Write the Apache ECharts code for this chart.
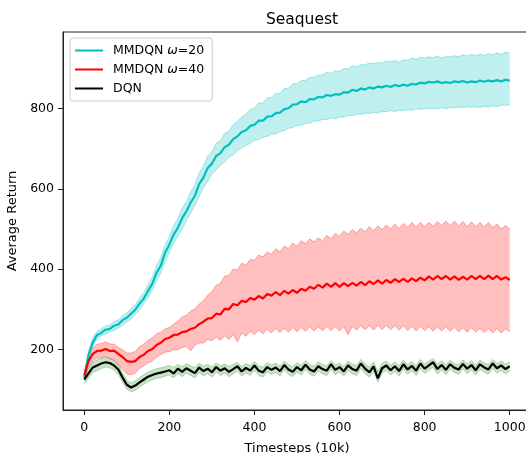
<!DOCTYPE html>
<html>
<head>
<meta charset="utf-8">
<script src="https://cdn.jsdelivr.net/npm/echarts@6/dist/echarts.min.js"></script>
<style>html,body{margin:0;padding:0;background:#fff}#c{width:526px;height:453px}</style>
</head>
<body>
<div id="c"></div>
<script>
const steps = [
  0,10,20,30,40,50,60,70,80,90,
  100,110,120,130,140,150,160,170,180,190,
  200,210,220,230,240,250,260,270,280,290,
  300,310,320,330,340,350,360,370,380,390,
  400,410,420,430,440,450,460,470,480,490,
  500,510,520,530,540,550,560,570,580,590,
  600,610,620,630,640,650,660,670,680,690,
  700,710,720,730,740,750,760,770,780,790,
  800,810,820,830,840,850,860,870,880,890,
  900,910,920,930,940,950,960,970,980,990,
  1000];
const xTicks = [0,200,400,600,800,1000];
const yTicks = [200,400,600,800];

const mm20 = [
  130,186,217,236,241,249,251,259,262,273,
  279,289,299,314,327,346,364,391,409,441,
  461,486,503,527,544,566,583,612,628,652,
  663,682,689,704,710,724,731,742,746,757,
  760,770,770,780,781,789,790,799,801,810,
  811,818,816,824,823,829,828,834,832,836,
  835,841,840,847,844,850,848,853,850,855,
  853,857,854,859,856,860,857,862,860,865,
  863,867,865,868,864,866,864,868,866,869,
  865,868,866,870,867,870,868,871,868,872,
  870];
const mm20Hi = [
  138,196,229,245,251,258,261,269,273,284,
  291,301,312,328,342,361,381,409,429,461,
  481,508,526,551,568,592,610,640,656,682,
  692,714,720,738,744,760,768,780,786,798,
  801,814,814,827,828,838,838,850,851,862,
  862,870,870,878,878,884,884,890,888,894,
  893,900,899,907,904,910,909,914,912,915,
  914,919,917,920,916,922,920,926,923,928,
  926,929,927,931,926,930,929,932,930,934,
  931,935,932,936,933,937,934,939,935,941,
  938];
const mm20Lo = [
  122,175,209,225,234,238,244,247,253,260,
  269,275,288,298,314,329,349,371,391,419,
  443,463,483,500,521,539,559,581,603,619,
  637,647,659,667,679,685,695,701,709,713,
  721,723,729,731,736,737,743,745,751,753,
  758,759,763,764,769,769,773,773,777,774,
  779,779,783,783,786,786,789,788,791,789,
  793,792,795,793,796,795,797,796,799,798,
  801,800,801,799,802,800,803,802,804,802,
  805,804,805,803,806,804,807,805,809,808,
  810];

const mm40 = [
  135,171,189,196,197,201,196,197,189,181,
  171,169,171,181,187,196,201,211,217,226,
  229,236,237,243,245,251,254,263,269,277,
  278,289,287,301,300,313,310,321,318,328,
  324,333,327,338,334,343,335,346,339,348,
  341,351,346,356,351,361,354,364,356,365,
  356,365,358,366,359,368,360,370,363,372,
  364,373,366,375,368,376,368,377,370,379,
  372,382,374,383,375,383,374,382,373,381,
  374,383,375,383,375,384,375,383,374,380,
  373];
const mm40Hi = [
  145,186,204,213,215,219,214,213,205,199,
  191,191,195,207,213,223,229,239,243,251,
  255,263,271,281,285,295,301,313,321,335,
  344,360,364,383,384,400,398,415,410,424,
  422,435,430,443,437,451,443,458,451,465,
  457,471,463,475,468,478,471,484,476,489,
  482,495,487,499,490,502,493,506,496,508,
  498,510,500,512,501,514,504,516,505,517,
  505,517,507,519,509,520,508,520,507,519,
  506,518,506,517,505,516,503,513,500,509,
  500];
const mm40Lo = [
  125,156,171,179,179,183,177,173,161,151,
  139,137,141,153,159,167,171,181,187,193,
  195,199,199,205,207,196,211,216,216,225,
  222,230,223,234,225,237,219,241,233,245,
  237,248,239,251,241,252,242,253,243,254,
  244,255,245,256,246,256,246,257,247,257,
  246,257,236,258,248,259,249,259,248,260,
  249,260,249,259,248,259,247,258,246,257,
  247,256,245,256,246,256,245,255,244,254,
  243,254,243,253,242,252,241,252,241,251,
  244];

const dqn = [
  125,140,155,160,165,168,166,160,150,130,
  112,105,110,118,125,132,136,140,142,145,
  148,140,152,144,153,147,141,155,146,152,
  143,156,147,153,144,151,158,145,154,147,
  160,147,143,156,149,155,146,161,150,144,
  156,148,162,150,145,158,151,147,163,149,
  156,145,160,151,147,165,152,143,158,128,
  153,160,148,158,146,163,150,159,147,165,
  152,160,168,151,161,149,163,154,150,164,
  152,161,148,163,155,150,165,153,160,151,
  158];
const dqnHi = [
  135,152,168,174,178,180,178,172,162,142,
  123,117,122,130,137,144,148,152,154,157,
  160,155,163,157,164,159,155,166,158,163,
  156,166,159,164,157,163,168,157,165,159,
  170,159,156,167,161,166,158,171,162,157,
  167,160,172,162,158,169,163,159,172,161,
  167,158,171,163,159,175,164,156,169,145,
  165,171,160,169,159,173,162,170,159,175,
  164,171,177,163,172,161,173,165,162,174,
  164,172,160,173,166,162,175,165,171,163,
  169];
const dqnLo = [
  115,128,143,147,152,156,154,148,138,118,
  101,94,98,106,113,120,124,128,130,133,
  136,129,140,132,141,135,129,143,134,140,
  131,144,135,141,132,139,146,133,142,135,
  148,135,131,144,137,143,134,149,138,132,
  144,136,150,138,133,146,139,135,151,137,
  144,133,148,139,135,153,140,131,146,118,
  141,148,136,146,134,151,138,147,135,153,
  140,148,156,139,149,137,151,142,138,152,
  140,149,136,151,143,138,153,141,148,139,
  146];

const names = ['MMDQN ω=20', 'MMDQN ω=40', 'DQN'];

function pairs(ys) { return steps.map((x, i) => [x, ys[i]]); }

function band(lo, hi, edge, fill) {
  const data = steps.map((x, i) => [x, lo[i], hi[i]]);
  return {
    type: 'custom', silent: true, z: 1, clip: true,
    data: data,
    encode: { x: 0, y: [1, 2] },
    renderItem: function (params, api) {
      if (params.dataIndex !== 0) return null;
      const top = data.map(d => api.coord([d[0], d[2]]));
      const bot = data.map(d => api.coord([d[0], d[1]]));
      const poly = top.concat(bot.slice().reverse());
      return {
        type: 'group',
        children: [
          { type: 'polygon', shape: { points: poly }, style: { fill: fill, stroke: null } },
          { type: 'polyline', shape: { points: top }, style: { fill: null, stroke: edge, lineWidth: 1 } },
          { type: 'polyline', shape: { points: bot }, style: { fill: null, stroke: edge, lineWidth: 1 } }
        ]
      };
    }
  };
}
function mean(name, ys, color) {
  return { type: 'line', name: name, data: pairs(ys), symbol: 'none',
    lineStyle: { color: color, width: 2.2 }, itemStyle: { color: color }, z: 3 };
}

const F = 'DejaVu Sans';
const chart = echarts.init(document.getElementById('c'), null, { renderer: 'canvas' });
chart.setOption({
  animation: false,
  backgroundColor: '#fff',
  title: {
    text: 'Seaquest', left: 297, top: 7, textAlign: 'center',
    textStyle: { fontFamily: F, fontSize: 15.5, fontWeight: 'normal', color: '#000' }
  },
  legend: {
    data: names.map(n => ({ name: n, icon: 'rect' })),
    orient: 'vertical', left: 70, top: 38,
    itemWidth: 28, itemHeight: 2, itemGap: 6,
    padding: [6, 8, 6, 5],
    backgroundColor: 'rgba(255,255,255,0.8)',
    borderColor: '#cccccc', borderWidth: 1, borderRadius: 3,
    formatter: n => n.replace('ω', '{w|ω}'),
    textStyle: {
      fontFamily: F, fontSize: 12.5, color: '#000', padding: [0, 0, 0, 5],
      rich: { w: { fontFamily: F, fontSize: 12.5, fontStyle: 'italic', color: '#000' } }
    }
  },
  grid: { left: 63, top: 32, right: -5, bottom: 43, containLabel: false, outerBoundsMode: 'none',
    show: true, borderColor: '#222', borderWidth: 1 },
  xAxis: {
    type: 'value', min: -50, max: 1050,
    name: 'Timesteps (10k)', nameLocation: 'middle', nameGap: 32,
    nameTextStyle: { fontFamily: F, fontSize: 13, color: '#000' },
    axisLine: { show: true, onZero: false, lineStyle: { color: '#222', width: 1 } },
    axisTick: { show: true, inside: false, length: 5, customValues: xTicks, lineStyle: { color: '#222' } },
    axisLabel: { customValues: xTicks, margin: 11, fontFamily: F, fontSize: 12.5, color: '#000',
      formatter: v => String(v) },
    splitLine: { show: false }
  },
  yAxis: {
    type: 'value', min: 49, max: 991,
    name: 'Average Return', nameLocation: 'middle', nameGap: 35,
    nameTextStyle: { fontFamily: F, fontSize: 13, color: '#000' },
    axisLine: { show: true, onZero: false, lineStyle: { color: '#222', width: 1 } },
    axisTick: { show: true, inside: false, length: 5, customValues: yTicks, lineStyle: { color: '#222' } },
    axisLabel: { customValues: yTicks, margin: 9, fontFamily: F, fontSize: 12.5, color: '#000',
      formatter: v => String(v) },
    splitLine: { show: false }
  },
  series: [
    band(mm20Lo, mm20Hi, 'rgba(0,191,191,0.32)', 'rgba(0,191,191,0.25)'),
    band(mm40Lo, mm40Hi, 'rgba(255,0,0,0.3)', 'rgba(255,0,0,0.25)'),
    band(dqnLo, dqnHi, 'rgba(0,128,0,0.25)', 'rgba(0,128,0,0.22)'),
    mean(names[0], mm20, '#00bfbf'),
    mean(names[1], mm40, '#ff0000'),
    mean(names[2], dqn, '#000000')
  ]
});
</script>
</body>
</html>
